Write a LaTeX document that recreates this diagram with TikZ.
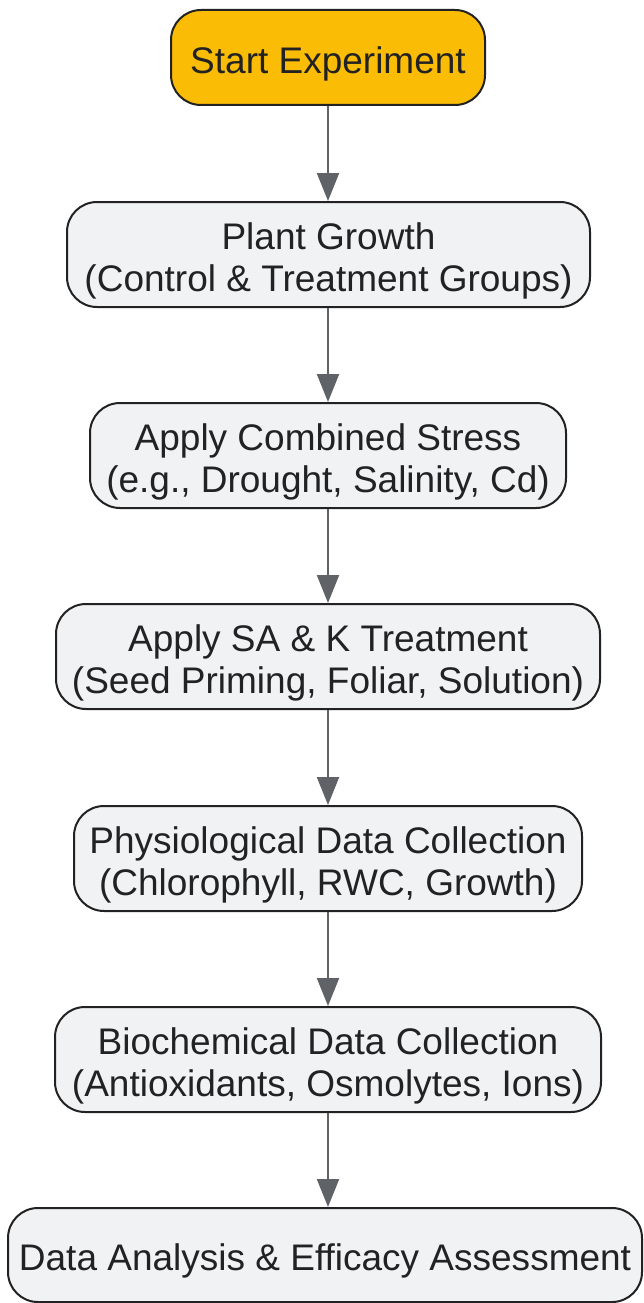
\documentclass[tikz,border=0pt]{standalone}
\usepackage{fontspec}
\setmainfont{Liberation Sans}
\usetikzlibrary{arrows.meta}
\definecolor{boxfill}{HTML}{F1F2F4}
\definecolor{startfill}{HTML}{FBBC05}
\definecolor{edge}{HTML}{222222}
\definecolor{arrowc}{HTML}{5F6368}
\begin{document}
\begin{tikzpicture}[x=1pt,y=-1pt,
  stepbox/.style={draw=edge,line width=2pt,fill=boxfill,rounded corners=30pt,inner sep=0pt},
  steptext/.style={align=center,inner sep=0pt,font=\fontsize{37}{42}\selectfont,text=edge,yshift=-6pt},
  flow/.style={draw=arrowc,line width=2.2pt,-{Triangle[length=28pt,width=22pt]}}]
\useasboundingbox (0,0) rectangle (644,1303);
\node[stepbox,fill=startfill,minimum width=314pt,minimum height=95pt] (s) at (328,57.5) {};
\node[steptext] (st) at (s.center) {Start Experiment};
\node[stepbox,minimum width=523pt,minimum height=105pt] (p) at (328.5,254.5) {};
\node[steptext] (pt) at (p.center) {Plant Growth\\(Control \& Treatment Groups)};
\node[stepbox,minimum width=476pt,minimum height=105pt] (c) at (328,455.5) {};
\node[steptext] (ct) at (c.center) {Apply Combined Stress\\(e.g., Drought, Salinity, Cd)};
\node[stepbox,minimum width=544pt,minimum height=105pt] (k) at (328,656.5) {};
\node[steptext] (kt) at (k.center) {Apply SA \& K Treatment\\(Seed Priming, Foliar, Solution)};
\node[stepbox,minimum width=508pt,minimum height=105pt] (ph) at (328,858.5) {};
\node[steptext] (pht) at (ph.center) {Physiological Data Collection\\(Chlorophyll, RWC, Growth)};
\node[stepbox,minimum width=546pt,minimum height=105pt] (b) at (328,1059.5) {};
\node[steptext] (bt) at (b.center) {Biochemical Data Collection\\(Antioxidants, Osmolytes, Ions)};
\node[stepbox,minimum width=634pt,minimum height=94pt] (d) at (325,1255) {};
\node[steptext] (dt) at (d.center) {Data Analysis \& Efficacy Assessment};
\draw[flow] (s.south -| 328,0) -- (p.north -| 328,0);
\draw[flow] (p.south -| 328,0) -- (c.north -| 328,0);
\draw[flow] (c.south -| 328,0) -- (k.north -| 328,0);
\draw[flow] (k.south -| 328,0) -- (ph.north -| 328,0);
\draw[flow] (ph.south -| 328,0) -- (b.north -| 328,0);
\draw[flow] (b.south -| 328,0) -- (d.north -| 328,0);
\end{tikzpicture}
\end{document}
